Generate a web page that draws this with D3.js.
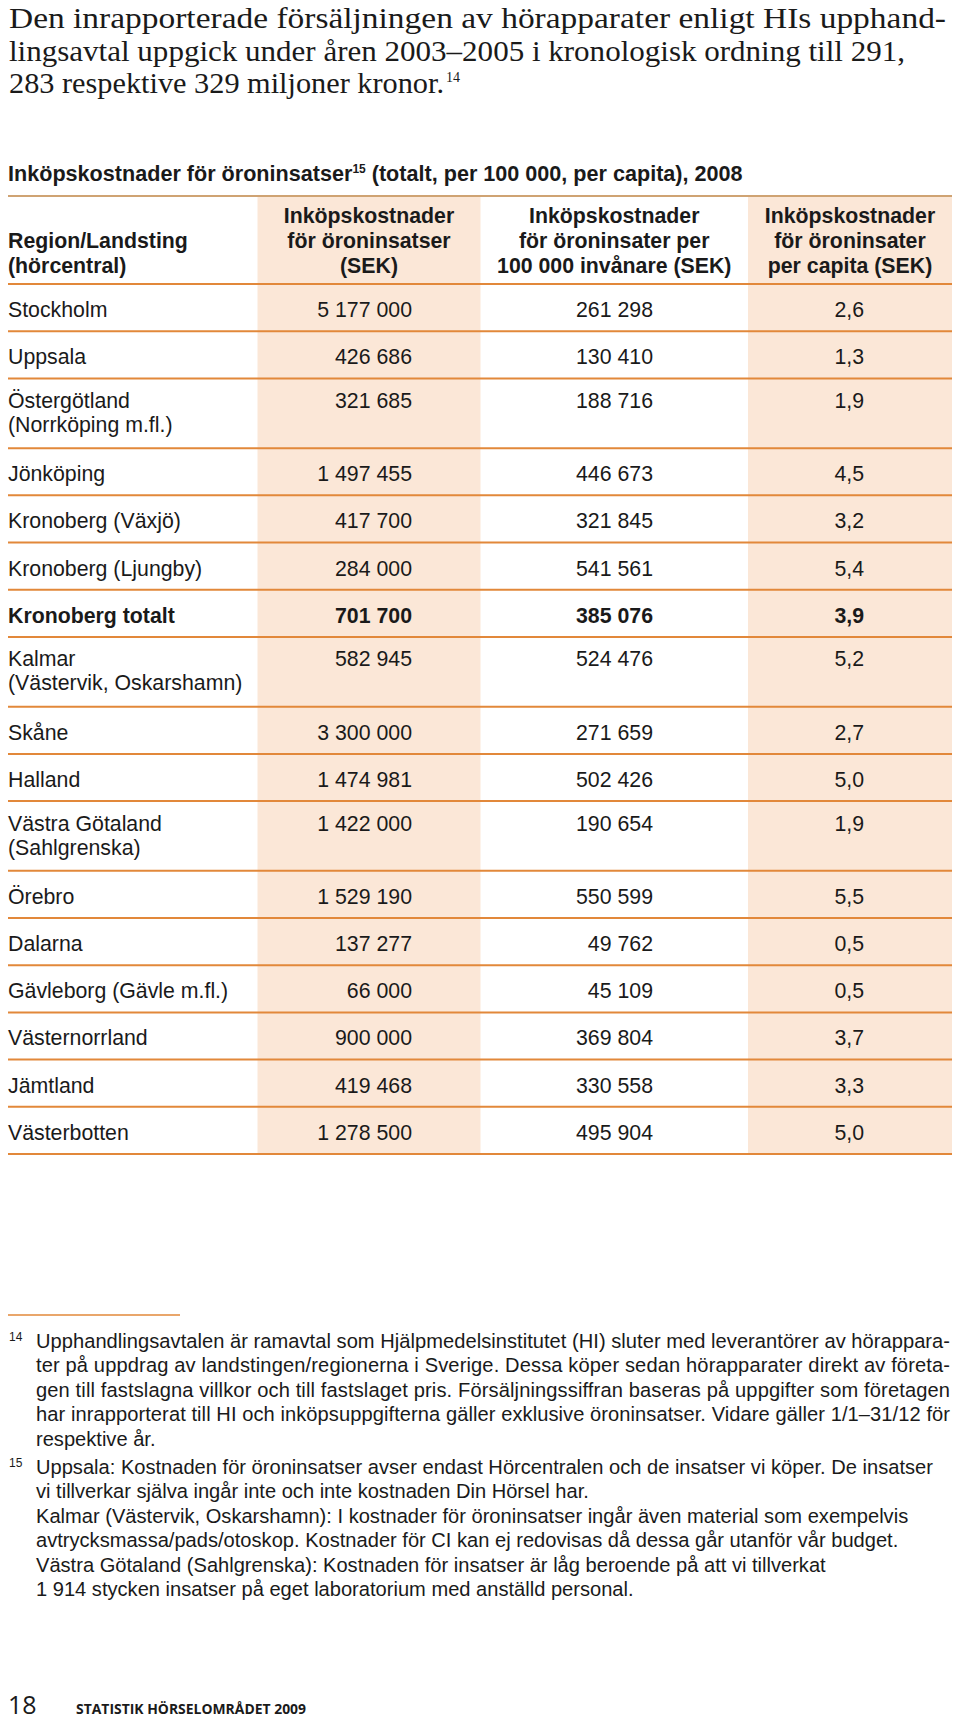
<!DOCTYPE html>
<html><head><meta charset="utf-8">
<script src="https://cdn.jsdelivr.net/npm/d3@7"></script>
<style>body{margin:0;background:#fff}</style>
</head><body>
<svg id="c" width="960" height="1721"></svg>
<script>
// ---------- data ----------
const regions = [
  "Stockholm", "Uppsala", "Östergötland\n(Norrköping m.fl.)", "Jönköping",
  "Kronoberg (Växjö)", "Kronoberg (Ljungby)", "Kronoberg totalt",
  "Kalmar\n(Västervik, Oskarshamn)", "Skåne", "Halland",
  "Västra Götaland\n(Sahlgrenska)", "Örebro", "Dalarna",
  "Gävleborg (Gävle m.fl.)", "Västernorrland", "Jämtland", "Västerbotten"
];
const totalCost = [5177000, 426686, 321685, 1497455, 417700, 284000, 701700, 582945,
  3300000, 1474981, 1422000, 1529190, 137277, 66000, 900000, 419468, 1278500];
const per100k = [261298, 130410, 188716, 446673, 321845, 541561, 385076, 524476,
  271659, 502426, 190654, 550599, 49762, 45109, 369804, 330558, 495904];
const perCapita = [2.6, 1.3, 1.9, 4.5, 3.2, 5.4, 3.9, 5.2, 2.7, 5.0, 1.9, 5.5, 0.5, 0.5, 3.7, 3.3, 5.0];
const boldRows = ["Kronoberg totalt"];
const headers = [
  ["Region/Landsting", "(hörcentral)"],
  ["Inköpskostnader", "för öroninsatser", "(SEK)"],
  ["Inköpskostnader", "för öroninsater per", "100 000 invånare (SEK)"],
  ["Inköpskostnader", "för öroninsater", "per capita (SEK)"]
];
const introLines = [
  "Den inrapporterade försäljningen av hörapparater enligt HIs upphand-",
  "lingsavtal uppgick under åren 2003–2005 i kronologisk ordning till 291,",
  "283 respektive 329 miljoner kronor."
];
const introNote = "14";
const titleMain = "Inköpskostnader för öroninsatser";
const titleNote = "15";
const titleRest = " (totalt, per 100 000, per capita), 2008";
const footnote14 = [
  "Upphandlingsavtalen är ramavtal som Hjälpmedelsinstitutet (HI) sluter med leverantörer av hörappara-",
  "ter på uppdrag av landstingen/regionerna i Sverige. Dessa köper sedan hörapparater direkt av företa-",
  "gen till fastslagna villkor och till fastslaget pris. Försäljningssiffran baseras på uppgifter som företagen",
  "har inrapporterat till HI och inköpsuppgifterna gäller exklusive öroninsatser. Vidare gäller 1/1–31/12 för",
  "respektive år."
];
const footnote15 = [
  "Uppsala: Kostnaden för öroninsatser avser endast Hörcentralen och de insatser vi köper. De insatser",
  "vi tillverkar själva ingår inte och inte kostnaden Din Hörsel har.",
  "Kalmar (Västervik, Oskarshamn): I kostnader för öroninsatser ingår även material som exempelvis",
  "avtrycksmassa/pads/otoskop. Kostnader för CI kan ej redovisas då dessa går utanför vår budget.",
  "Västra Götaland (Sahlgrenska): Kostnaden för insatser är låg beroende på att vi tillverkat",
  "1 914 stycken insatser på eget laboratorium med anställd personal."
];
const pageNumber = "18";
const pageFooter = "STATISTIK HÖRSELOMRÅDET 2009";

// ---------- styles ----------
const INK = "#1a1a1a";
const SHADE = "#fbe7d7";
const RULE = "#e2883a";
const TOPRULE = "#cfa373";
const SANS = "'Liberation Sans', Arial, sans-serif";
const SERIF = "'Liberation Serif', 'Times New Roman', serif";
const FOOT = "'Open Sans', sans-serif";
const FS = 21.3;

const svg = d3.select("#c");
svg.append("rect").attr("width", 960).attr("height", 1721).attr("fill", "#fff");

// ---------- intro paragraph ----------
const introWidths = [937, 896, 435];
const intro = svg.append("g").attr("font-family", SERIF).attr("font-size", 28.5).attr("fill", INK);
introLines.forEach((t, i) => {
  intro.append("text").attr("x", 9).attr("y", 28 + i * 32.5)
    .attr("textLength", introWidths[i]).attr("lengthAdjust", "spacingAndGlyphs").text(t);
});
intro.append("text").attr("x", 446).attr("y", 28 + 2 * 32.5 - 11).attr("font-size", 14).text(introNote);

// ---------- title ----------
const title = svg.append("text").attr("x", 8).attr("y", 181)
  .attr("font-family", SANS).attr("font-weight", "bold").attr("font-size", 21.6).attr("fill", INK);
title.append("tspan").text(titleMain);
title.append("tspan").attr("font-size", 12).attr("dy", -8).text(titleNote);
title.append("tspan").attr("dy", 8).text(titleRest);

// ---------- table layout via scales ----------
const rows = regions.map((r, i) => ({
  lines: r.split("\n"), name: r.replace("\n", " "),
  total: totalCost[i], p100k: per100k[i], pc: perCapita[i],
  bold: boldRows.includes(r)
}));
const unit = r => r.lines.length === 1 ? 1 : 1.479;
const cum = [0, ...d3.cumsum(rows, unit)];
const y = d3.scaleLinear().domain([0, cum[cum.length - 1]]).range([284, 1154]);
rows.forEach((r, i) => { r.y0 = y(cum[i]); r.y1 = y(cum[i + 1]); });

const colKeys = ["region", "total", "p100k", "pc"];
const xLeft = d3.scaleOrdinal().domain(colKeys).range([8, 257.5, 480.5, 748]);
const xRight = d3.scaleOrdinal().domain(colKeys).range([257.5, 480.5, 748, 952]);
const xValue = d3.scaleOrdinal().domain(colKeys).range([8, 412, 653, 864]);
const tableTop = 196, headBottom = y(0), tableBottom = y(cum[cum.length - 1]);

const loc = d3.formatLocale({decimal: ",", thousands: "\u00a0", grouping: [3], currency: ["", ""]});
const fmtInt = loc.format(",d");
const fmtDec = loc.format(",.1f");

// shaded columns
svg.append("g").selectAll("rect").data(["total", "pc"]).join("rect")
  .attr("x", d => xLeft(d)).attr("width", d => xRight(d) - xLeft(d))
  .attr("y", tableTop).attr("height", tableBottom - tableTop).attr("fill", SHADE);

// header text
const hg = svg.append("g").attr("font-family", SANS).attr("font-weight", "bold")
  .attr("font-size", FS).attr("fill", INK);
headers.forEach((lines, c) => {
  const key = colKeys[c];
  const cx = c === 0 ? xLeft(key) : (xLeft(key) + xRight(key)) / 2;
  const t = hg.append("text").attr("x", cx).attr("text-anchor", c === 0 ? "start" : "middle");
  lines.forEach((l, j) => {
    t.append("tspan").attr("x", cx).attr("y", 273 - (lines.length - 1 - j) * 25).text(l);
  });
});

// rules
svg.append("line").attr("x1", 8).attr("x2", 952).attr("y1", tableTop).attr("y2", tableTop)
  .attr("stroke", TOPRULE).attr("stroke-width", 2);
svg.append("g").selectAll("line").data([headBottom, ...rows.map(r => r.y1)]).join("line")
  .attr("x1", 8).attr("x2", 952).attr("y1", d => d).attr("y2", d => d)
  .attr("stroke", RULE).attr("stroke-width", 2);

// body rows
const body = svg.append("g").attr("font-family", SANS).attr("font-size", FS).attr("fill", INK);
const rg = body.selectAll("g.row").data(rows).join("g").attr("class", "row")
  .attr("font-weight", d => d.bold ? "bold" : "normal");
const base = d => d.y0 + (d.lines.length === 1 ? 33 : 29.5);
rg.each(function(d) {
  const g = d3.select(this);
  d.lines.forEach((l, j) => {
    g.append("text").attr("x", xValue("region")).attr("y", base(d) + j * 24).text(l);
  });
  g.append("text").attr("x", xValue("total")).attr("y", base(d)).attr("text-anchor", "end").text(fmtInt(d.total));
  g.append("text").attr("x", xValue("p100k")).attr("y", base(d)).attr("text-anchor", "end").text(fmtInt(d.p100k));
  g.append("text").attr("x", xValue("pc")).attr("y", base(d)).attr("text-anchor", "end").text(fmtDec(d.pc));
});

// ---------- footnotes ----------
svg.append("line").attr("x1", 8).attr("x2", 180).attr("y1", 1315).attr("y2", 1315)
  .attr("stroke", RULE).attr("stroke-width", 1.5);
const fn = svg.append("g").attr("font-family", SANS).attr("font-size", 20.1).attr("fill", INK);
const notes = [{num: "14", lines: footnote14, y: 1348, justified: 4},
               {num: "15", lines: footnote15, y: 1474, justified: 0}];
notes.forEach(n => {
  fn.append("text").attr("x", 9).attr("y", n.y - 7).attr("font-size", 12).text(n.num);
  n.lines.forEach((l, j) => {
    const t = fn.append("text").attr("x", 36).attr("y", n.y + j * 24.4).text(l);
    if (j < n.justified) t.attr("textLength", 914).attr("lengthAdjust", "spacing");
  });
});

// ---------- page footer ----------
svg.append("text").attr("x", 8).attr("y", 1714).attr("font-family", FOOT)
  .attr("font-size", 25).attr("fill", INK).text(pageNumber);
svg.append("text").attr("x", 76).attr("y", 1714).attr("font-family", FOOT).attr("font-weight", "bold")
  .attr("font-size", 15).attr("fill", INK).attr("textLength", 230).attr("lengthAdjust", "spacingAndGlyphs")
  .text(pageFooter);
</script>
</body></html>
